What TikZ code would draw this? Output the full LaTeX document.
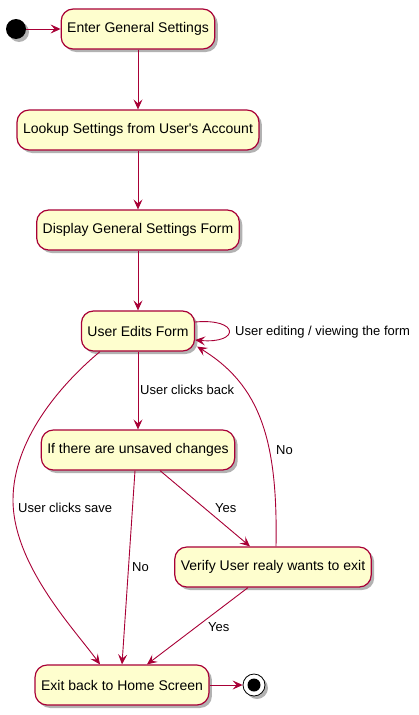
\documentclass[tikz,border=0pt]{standalone}
\usepackage{fontspec}
\setmainfont{Liberation Sans}
\usetikzlibrary{arrows.meta,shadows}
\definecolor{umlred}{HTML}{A80036}
\definecolor{umlfill}{HTML}{FEFECE}
\tikzset{
  umlshadow/.style={drop shadow={shadow xshift=3pt, shadow yshift=-3pt, opacity=0.3, fill=black}},
  state/.style={draw=umlred, fill=umlfill, line width=1.2pt, rounded corners=12pt,
    minimum height=40pt, inner xsep=6pt, font=\fontsize{14}{16}\selectfont, umlshadow},
  startdot/.style={circle, fill=black, minimum size=20pt, inner sep=0pt, umlshadow},
  enddot/.style={circle, draw=black, fill=white, line width=0.8pt, minimum size=22pt, inner sep=0pt, umlshadow,
    path picture={\fill[black] (path picture bounding box.center) circle (6.5pt);}},
  trans/.style={draw=umlred, line width=0.9pt, -{Stealth[length=10pt,width=9pt,inset=4pt]}},
  lbl/.style={font=\fontsize{13}{15}\selectfont, inner sep=0pt, anchor=west}
}
\begin{document}
\begin{tikzpicture}[x=1pt, y=-1pt]
\useasboundingbox (0,0) rectangle (418,715);

\node[startdot] (start) at (16,29) {};
\node[state] (enter) at (138,29) {Enter General Settings};
\node[state] (lookup) at (138,130) {Lookup Settings from User\textquotesingle s Account};
\node[state] (display) at (138,230) {Display General Settings Form};
\node[state] (edit) at (138,331) {User Edits Form};
\node[state] (unsaved) at (138,450) {If there are unsaved changes};
\node[state] (verify) at (273,567) {Verify User realy wants to exit};
\node[state] (exit) at (122,685) {Exit back to Home Screen};
\node[enddot] (stop) at (254,685) {};

\draw[trans] (start) -- (enter);
\draw[trans] (enter) -- (lookup);
\draw[trans] (lookup) -- (display);
\draw[trans] (display) -- (edit);
\draw[trans] (edit) -- (unsaved);
\draw[trans] ([yshift=9pt]edit.east) .. controls (240,318) and (240,344) .. ([yshift=-9pt]edit.east);
\draw[trans] ([xshift=-38pt]edit.south) .. controls (60,385) and (13,440) .. (13,500)
  .. controls (13,565) and (75,630) .. ([xshift=-22pt]exit.north);
\draw[trans] ([xshift=-3pt]unsaved.south) -- (exit.north);
\draw[trans] ([xshift=22pt]unsaved.south) -- ([xshift=-23pt]verify.north);
\draw[trans] ([xshift=3pt]verify.north) .. controls (278,440) and (260,385) .. ([xshift=2pt,yshift=5pt]edit.south east);
\draw[trans] ([xshift=-25pt]verify.south) -- ([xshift=25pt]exit.north);
\draw[trans] (exit) -- (stop);

\node[lbl] (lloop) at (235,332) {User editing / viewing the form};
\node[lbl] (lback) at (140,390) {User clicks back};
\node[lbl] (lsave) at (18,508) {User clicks save};
\node[lbl] (lno1) at (132,567) {No};
\node[lbl] (lyes1) at (215,508) {Yes};
\node[lbl] (lno2) at (276,450) {No};
\node[lbl] (lyes2) at (208,627) {Yes};
\end{tikzpicture}
\end{document}
